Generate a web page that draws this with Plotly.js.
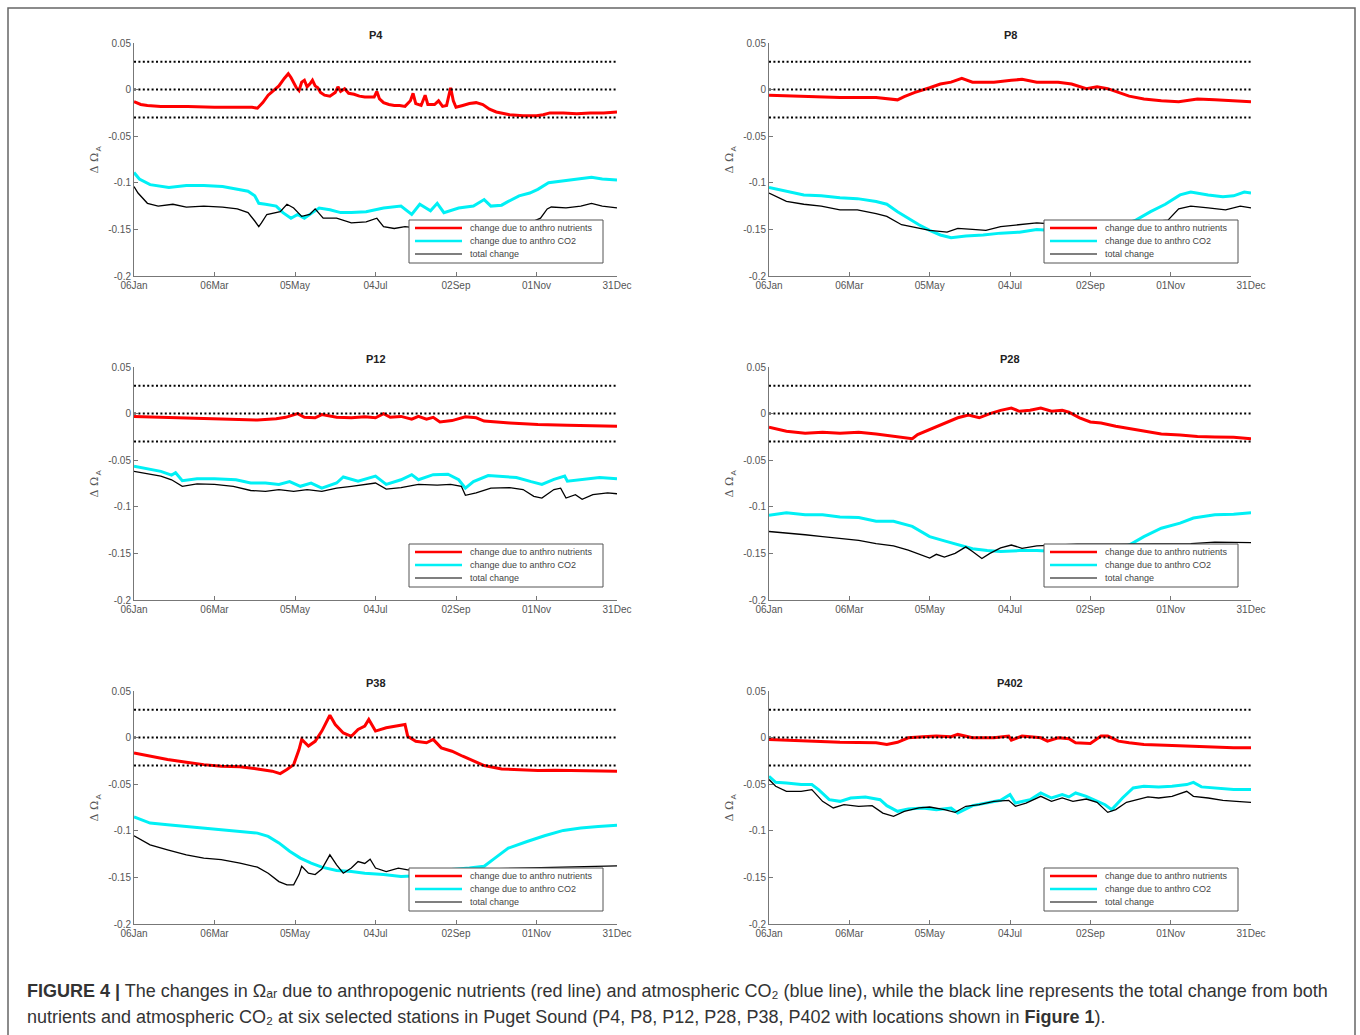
<!DOCTYPE html>
<html>
<head>
<meta charset="utf-8">
<script src="https://cdn.plot.ly/plotly-3.0.1.min.js"></script>
<style>
  html, body { margin: 0; padding: 0; background: #fff; }
  #chart { width: 1360px; height: 1035px; }
</style>
</head>
<body>
<div id="chart"></div>
<script>
// ---------- axis tick data ----------
const tickDays = [0, 60, 120, 180, 240, 300, 360];
const tickLabels = ['06Jan', '06Mar', '05May', '04Jul', '02Sep', '01Nov', '31Dec'];
const yTicks = [0.05, 0, -0.05, -0.1, -0.15, -0.2];
const yTickLabels = ['0.05', '0', '-0.05', '-0.1', '-0.15', '-0.2'];
const thresholdLevels = [0.03, 0, -0.03];
const stationNames = ['P4', 'P8', 'P12', 'P28', 'P38', 'P402'];
const legendLabels = ['change due to anthro nutrients', 'change due to anthro CO2', 'total change'];

// ---------- series: [day since 06Jan, value] ----------
const p4Nutrients = [[0,-0.013],[5,-0.016],[10,-0.017],[20,-0.018],[40,-0.018],[60,-0.019],[80,-0.019],[88,-0.019],[92,-0.02],[96,-0.014],[100,-0.006],[104,-0.001],[108,0.004],[112,0.012],[115,0.017],[117,0.013],[119,0.008],[121,0.002],[123,-0.001],[125,0.008],[127,0.01],[129,0.003],[131,0.006],[133,0.01],[135,0.004],[137,0.002],[139,-0.003],[142,-0.006],[146,-0.007],[150,-0.003],[152,0.003],[154,-0.002],[157,0.001],[160,-0.004],[164,-0.005],[168,-0.007],[172,-0.008],[176,-0.008],[179,-0.008],[181,-0.002],[183,-0.01],[186,-0.014],[190,-0.016],[194,-0.017],[198,-0.017],[202,-0.018],[206,-0.012],[208,-0.004],[210,-0.015],[214,-0.017],[217,-0.006],[219,-0.016],[224,-0.016],[227,-0.012],[230,-0.018],[233,-0.017],[235,-0.005],[236,0.002],[238,-0.012],[240,-0.019],[245,-0.017],[250,-0.015],[255,-0.014],[260,-0.016],[265,-0.021],[270,-0.024],[280,-0.027],[290,-0.028],[300,-0.028],[305,-0.027],[310,-0.025],[320,-0.025],[330,-0.026],[340,-0.025],[350,-0.025],[360,-0.024]];
const p4CO2 = [[0,-0.089],[4,-0.096],[12,-0.102],[26,-0.105],[39,-0.103],[52,-0.103],[66,-0.104],[77,-0.107],[85,-0.109],[90,-0.114],[93,-0.122],[98,-0.123],[106,-0.125],[111,-0.132],[117,-0.138],[122,-0.134],[127,-0.138],[133,-0.132],[138,-0.127],[146,-0.129],[154,-0.132],[162,-0.132],[173,-0.131],[186,-0.127],[199,-0.125],[207,-0.134],[213,-0.123],[221,-0.13],[226,-0.122],[231,-0.132],[242,-0.127],[253,-0.125],[261,-0.118],[266,-0.125],[274,-0.124],[279,-0.12],[287,-0.114],[295,-0.111],[301,-0.107],[309,-0.1],[319,-0.098],[333,-0.096],[341,-0.094],[349,-0.096],[360,-0.097]];
const p4Total = [[0,-0.104],[3,-0.111],[10,-0.122],[18,-0.125],[29,-0.123],[39,-0.126],[52,-0.125],[66,-0.126],[77,-0.128],[85,-0.132],[90,-0.141],[93,-0.147],[95,-0.143],[99,-0.134],[109,-0.131],[114,-0.123],[119,-0.127],[125,-0.136],[131,-0.134],[135,-0.128],[141,-0.138],[151,-0.138],[162,-0.143],[173,-0.142],[181,-0.138],[186,-0.147],[194,-0.149],[202,-0.147],[220,-0.15],[240,-0.148],[260,-0.147],[280,-0.145],[298,-0.141],[303,-0.138],[308,-0.128],[311,-0.126],[322,-0.127],[333,-0.125],[341,-0.122],[349,-0.125],[360,-0.127]];

const p8Nutrients = [[0,-0.006],[26,-0.0075],[53,-0.0085],[80,-0.0085],[96,-0.011],[101,-0.0075],[109,-0.003],[120,0.002],[128,0.006],[136,0.008],[144,0.012],[152,0.008],[168,0.008],[181,0.01],[189,0.011],[200,0.008],[216,0.008],[226,0.006],[237,0.001],[245,0.003],[253,0.001],[261,-0.003],[269,-0.007],[280,-0.01],[293,-0.012],[306,-0.013],[320,-0.01],[333,-0.011],[346,-0.012],[360,-0.013]];
const p8CO2 = [[0,-0.105],[13,-0.109],[26,-0.113],[39,-0.114],[53,-0.116],[66,-0.117],[80,-0.12],[88,-0.123],[96,-0.131],[104,-0.138],[112,-0.145],[120,-0.151],[128,-0.156],[136,-0.159],[147,-0.157],[160,-0.156],[173,-0.154],[187,-0.153],[200,-0.15],[220,-0.152],[240,-0.153],[255,-0.15],[265,-0.145],[274,-0.14],[285,-0.131],[296,-0.123],[307,-0.113],[315,-0.11],[328,-0.113],[339,-0.115],[347,-0.114],[355,-0.11],[360,-0.111]];
const p8Total = [[0,-0.111],[13,-0.12],[26,-0.123],[39,-0.125],[53,-0.129],[66,-0.129],[80,-0.133],[88,-0.136],[99,-0.145],[107,-0.147],[120,-0.151],[133,-0.153],[141,-0.149],[152,-0.15],[162,-0.151],[173,-0.147],[187,-0.145],[200,-0.143],[220,-0.145],[250,-0.145],[275,-0.143],[295,-0.14],[298,-0.14],[306,-0.128],[315,-0.125],[328,-0.127],[341,-0.129],[352,-0.125],[360,-0.127]];

const p12Nutrients = [[0,-0.003],[39,-0.0045],[65,-0.0055],[92,-0.007],[106,-0.0055],[113,-0.004],[122,0],[127,-0.004],[135,-0.0045],[140,-0.001],[151,-0.004],[162,-0.0045],[172,-0.0035],[180,-0.0045],[186,0],[191,-0.004],[199,-0.003],[207,-0.006],[212,-0.003],[218,-0.006],[223,-0.004],[228,-0.009],[237,-0.0075],[247,-0.0035],[255,-0.0045],[261,-0.008],[280,-0.01],[301,-0.0118],[323,-0.0125],[339,-0.013],[360,-0.0135]];
const p12CO2 = [[0,-0.0565],[12,-0.06],[20,-0.062],[28,-0.066],[31,-0.0635],[36,-0.072],[47,-0.07],[60,-0.07],[76,-0.071],[87,-0.0745],[98,-0.0745],[108,-0.076],[116,-0.073],[124,-0.078],[132,-0.0745],[140,-0.08],[151,-0.0745],[156,-0.068],[167,-0.0725],[180,-0.067],[188,-0.076],[199,-0.071],[207,-0.0655],[212,-0.071],[223,-0.0655],[234,-0.065],[242,-0.071],[247,-0.08],[253,-0.073],[264,-0.0665],[275,-0.0675],[285,-0.0685],[296,-0.073],[304,-0.076],[313,-0.0705],[321,-0.067],[323,-0.0725],[334,-0.071],[347,-0.0685],[360,-0.07]];
const p12Total = [[0,-0.062],[12,-0.065],[20,-0.067],[28,-0.071],[36,-0.078],[47,-0.0755],[60,-0.076],[74,-0.078],[87,-0.0825],[98,-0.0835],[108,-0.0815],[119,-0.0835],[129,-0.0815],[140,-0.0835],[151,-0.08],[162,-0.078],[172,-0.076],[180,-0.0745],[188,-0.081],[199,-0.0795],[212,-0.076],[226,-0.0768],[236,-0.076],[244,-0.078],[247,-0.0877],[255,-0.085],[266,-0.08],[280,-0.0795],[290,-0.0815],[298,-0.0888],[304,-0.0906],[313,-0.0815],[318,-0.08],[322,-0.0906],[329,-0.087],[334,-0.092],[342,-0.087],[353,-0.085],[360,-0.086]];

const p28Nutrients = [[0,-0.0145],[13,-0.019],[27,-0.021],[40,-0.02],[53,-0.021],[67,-0.02],[80,-0.022],[93,-0.0245],[107,-0.027],[111,-0.0225],[117,-0.019],[123,-0.015],[131,-0.011],[141,-0.0045],[149,-0.0015],[157,-0.0045],[165,0],[173,0.0035],[181,0.006],[187,0.0025],[195,0.0035],[203,0.006],[211,0.0025],[219,0.0035],[224,0.0015],[232,-0.0045],[240,-0.009],[248,-0.01],[259,-0.0135],[269,-0.016],[280,-0.019],[293,-0.022],[307,-0.023],[320,-0.0245],[333,-0.025],[347,-0.0255],[360,-0.027]];
const p28CO2 = [[0,-0.109],[13,-0.1065],[27,-0.1085],[40,-0.1085],[53,-0.111],[67,-0.1115],[80,-0.1155],[93,-0.1155],[107,-0.121],[115,-0.128],[120,-0.132],[131,-0.1365],[141,-0.1408],[152,-0.145],[163,-0.147],[173,-0.148],[187,-0.147],[200,-0.147],[215,-0.148],[235,-0.148],[250,-0.147],[260,-0.145],[269,-0.141],[280,-0.132],[293,-0.123],[307,-0.1175],[317,-0.112],[333,-0.1085],[347,-0.108],[360,-0.1065]];
const p28Total = [[0,-0.1265],[13,-0.128],[27,-0.13],[40,-0.132],[53,-0.134],[67,-0.136],[80,-0.1395],[93,-0.142],[104,-0.1465],[115,-0.152],[120,-0.155],[125,-0.151],[131,-0.154],[139,-0.15],[147,-0.143],[152,-0.148],[159,-0.1555],[165,-0.15],[173,-0.144],[181,-0.141],[189,-0.1445],[200,-0.142],[230,-0.14],[260,-0.14],[290,-0.14],[315,-0.1395],[333,-0.138],[360,-0.1385]];

const p38Nutrients = [[0,-0.0164],[12,-0.02],[25,-0.0235],[39,-0.0264],[52,-0.029],[65,-0.0307],[79,-0.0314],[92,-0.0336],[103,-0.036],[109,-0.0386],[114,-0.0343],[119,-0.029],[123,-0.0128],[125,-0.002],[130,-0.009],[135,-0.004],[140,0.007],[146,0.024],[150,0.014],[156,0.005],[162,0.0014],[167,0.0087],[172,0.0123],[175,0.0195],[180,0.007],[188,0.0105],[197,0.0123],[202,0.014],[204,0.0015],[210,-0.004],[218,-0.0056],[223,-0.002],[229,-0.011],[237,-0.0146],[245,-0.02],[253,-0.0253],[261,-0.03],[274,-0.0336],[287,-0.0343],[301,-0.0354],[314,-0.035],[333,-0.0354],[346,-0.036],[360,-0.036]];
const p38CO2 = [[0,-0.085],[12,-0.0917],[25,-0.0935],[39,-0.0953],[52,-0.097],[65,-0.0981],[79,-0.1007],[92,-0.1025],[100,-0.106],[108,-0.113],[116,-0.122],[124,-0.1293],[132,-0.1347],[140,-0.139],[151,-0.1426],[162,-0.1437],[172,-0.1455],[186,-0.147],[199,-0.149],[215,-0.148],[232,-0.142],[250,-0.14],[261,-0.138],[269,-0.1293],[279,-0.1186],[293,-0.1115],[306,-0.1053],[320,-0.0996],[333,-0.097],[346,-0.0953],[360,-0.094]];
const p38Total = [[0,-0.1053],[12,-0.115],[25,-0.1204],[39,-0.1258],[52,-0.1293],[65,-0.131],[79,-0.1347],[92,-0.139],[100,-0.1455],[108,-0.1545],[114,-0.158],[119,-0.158],[123,-0.147],[125,-0.138],[130,-0.1455],[135,-0.147],[140,-0.141],[146,-0.1258],[151,-0.1365],[156,-0.1455],[162,-0.14],[167,-0.133],[172,-0.135],[176,-0.1304],[180,-0.14],[188,-0.1437],[197,-0.14],[204,-0.142],[230,-0.142],[260,-0.141],[290,-0.14],[314,-0.139],[333,-0.138],[360,-0.1376]];

const p402Nutrients = [[0,-0.002],[27,-0.0038],[53,-0.005],[80,-0.0056],[88,-0.0074],[96,-0.005],[104,-0.0002],[115,0.0009],[125,0.0016],[136,0.0009],[141,0.0034],[152,-0.0002],[168,-0.0002],[179,0.0016],[181,-0.0027],[189,0.0016],[203,-0.0002],[208,-0.0038],[216,-0.0002],[224,-0.0013],[229,-0.0056],[240,-0.0063],[248,0.0016],[253,0.0016],[261,-0.0038],[269,-0.0056],[280,-0.0074],[296,-0.0081],[312,-0.0092],[333,-0.01],[347,-0.011],[360,-0.011]];
const p402CO2 = [[0,-0.0415],[5,-0.048],[13,-0.0486],[24,-0.0504],[32,-0.0504],[37,-0.0558],[45,-0.0666],[53,-0.0684],[61,-0.0648],[72,-0.0637],[83,-0.0666],[88,-0.073],[96,-0.0791],[104,-0.0766],[115,-0.0755],[125,-0.0773],[136,-0.0755],[141,-0.081],[152,-0.073],[163,-0.0702],[173,-0.0673],[180,-0.0612],[184,-0.0702],[195,-0.0666],[203,-0.0594],[211,-0.0648],[219,-0.0612],[224,-0.0637],[229,-0.0594],[237,-0.063],[245,-0.0684],[251,-0.072],[256,-0.0773],[264,-0.0648],[272,-0.054],[280,-0.0522],[291,-0.0529],[301,-0.0522],[312,-0.0504],[317,-0.048],[323,-0.0529],[333,-0.054],[347,-0.0558],[360,-0.0558]];
const p402Total = [[0,-0.045],[5,-0.0522],[13,-0.0576],[24,-0.0576],[32,-0.0558],[40,-0.0684],[48,-0.0755],[56,-0.072],[67,-0.0737],[77,-0.073],[85,-0.081],[93,-0.0845],[101,-0.0791],[112,-0.0755],[120,-0.0745],[131,-0.0773],[139,-0.0802],[147,-0.0737],[157,-0.072],[168,-0.0684],[179,-0.0673],[184,-0.0737],[192,-0.0702],[203,-0.063],[211,-0.0684],[219,-0.0648],[227,-0.0684],[237,-0.0659],[245,-0.0694],[253,-0.0802],[259,-0.0773],[267,-0.0694],[275,-0.0666],[283,-0.0637],[291,-0.0648],[301,-0.063],[312,-0.0576],[317,-0.063],[328,-0.0648],[339,-0.0673],[349,-0.0684],[360,-0.0694]];

// ---------- assemble ----------
const panelSeries = [
  [p4Nutrients, p4CO2, p4Total],
  [p8Nutrients, p8CO2, p8Total],
  [p12Nutrients, p12CO2, p12Total],
  [p28Nutrients, p28CO2, p28Total],
  [p38Nutrients, p38CO2, p38Total],
  [p402Nutrients, p402CO2, p402Total]
];
const seriesColors = ['#ff0000', '#00f0f5', '#000000'];
const seriesWidths = [3, 3, 1.3];

const W = 1360, H = 1035;
const colBounds = [[134, 617], [769, 1251]];
const rowBounds = [[43, 276], [367, 600], [691, 924]];
const px = v => v / W;
const py = v => 1 - v / H;
const FONT = 'Liberation Sans, Arial, sans-serif';

const traces = [];
const layout = {
  width: W, height: H,
  margin: {l: 0, r: 0, t: 0, b: 0},
  paper_bgcolor: '#ffffff',
  plot_bgcolor: '#ffffff',
  showlegend: false,
  font: {family: FONT, color: '#555', size: 10},
  annotations: [],
  shapes: []
};

stationNames.forEach((name, i) => {
  const col = i % 2, row = Math.floor(i / 2);
  const [x0, x1] = colBounds[col];
  const [y0, y1] = rowBounds[row];
  const suffix = i === 0 ? '' : String(i + 1);
  const xa = 'x' + suffix, ya = 'y' + suffix;

  layout['xaxis' + suffix] = {
    domain: [px(x0), px(x1)],
    anchor: ya,
    range: [tickDays[0], tickDays[tickDays.length - 1]],
    tickmode: 'array', tickvals: tickDays, ticktext: tickLabels,
    ticks: 'inside', ticklen: 4, tickwidth: 1, tickcolor: '#777',
    showline: true, linecolor: '#777', linewidth: 1,
    showgrid: false, zeroline: false, fixedrange: true,
    tickfont: {size: 10, color: '#555', family: FONT}
  };
  layout['yaxis' + suffix] = {
    domain: [py(y1), py(y0)],
    anchor: xa,
    range: [yTicks[yTicks.length - 1], yTicks[0]],
    tickmode: 'array', tickvals: yTicks, ticktext: yTickLabels,
    ticks: 'inside', ticklen: 4, tickwidth: 1, tickcolor: '#777',
    showline: true, linecolor: '#777', linewidth: 1,
    showgrid: false, zeroline: false, fixedrange: true,
    tickfont: {size: 10, color: '#555', family: FONT}
  };

  panelSeries[i].forEach((s, k) => {
    traces.push({
      type: 'scatter', mode: 'lines',
      x: s.map(p => p[0]), y: s.map(p => p[1]),
      xaxis: xa, yaxis: ya,
      line: {color: seriesColors[k], width: seriesWidths[k]},
      hoverinfo: 'skip', showlegend: false
    });
  });
  thresholdLevels.forEach(lv => {
    traces.push({
      type: 'scatter', mode: 'lines',
      x: [tickDays[0], tickDays[tickDays.length - 1]], y: [lv, lv],
      xaxis: xa, yaxis: ya,
      line: {color: '#000', width: 2, dash: '2px,2.4px'},
      hoverinfo: 'skip', showlegend: false
    });
  });

  // panel title
  layout.annotations.push({
    text: name, xref: 'paper', yref: 'paper',
    x: px((x0 + x1) / 2), y: py(y0 - 8), xanchor: 'center', yanchor: 'middle',
    showarrow: false, font: {size: 11, color: '#222', family: FONT, weight: 'bold'}
  });
  // y axis label: "Δ Ω" with subscript "A" (rotated)
  const yc = (y0 + y1) / 2;
  layout.annotations.push({
    text: 'Δ Ω', xref: 'paper', yref: 'paper',
    x: px(x0 - 40), y: py(yc + 4), xanchor: 'center', yanchor: 'middle',
    textangle: -90, showarrow: false,
    font: {size: 11, color: '#555', family: 'DejaVu Serif, serif'}
  });
  layout.annotations.push({
    text: 'A', xref: 'paper', yref: 'paper',
    x: px(x0 - 36), y: py(yc - 11), xanchor: 'center', yanchor: 'middle',
    textangle: -90, showarrow: false,
    font: {size: 8, color: '#555', family: FONT}
  });

  // legend box (MATLAB-style, opaque)
  const lx = x0 + 275, ly = y0 + 177, lw = 194, lh = 43;
  layout.shapes.push({
    type: 'rect', xref: 'paper', yref: 'paper', layer: 'above',
    x0: px(lx), x1: px(lx + lw), y0: py(ly + lh), y1: py(ly),
    fillcolor: '#ffffff', line: {color: '#555', width: 1}
  });
  legendLabels.forEach((lab, k) => {
    const ry = ly + 8 + k * 13;
    layout.shapes.push({
      type: 'line', xref: 'paper', yref: 'paper', layer: 'above',
      x0: px(lx + 6), x1: px(lx + 53), y0: py(ry), y1: py(ry),
      line: {color: seriesColors[k], width: k < 2 ? 2.6 : 1.2}
    });
    layout.annotations.push({
      text: lab, xref: 'paper', yref: 'paper',
      x: px(lx + 59), y: py(ry), xanchor: 'left', yanchor: 'middle',
      showarrow: false, font: {size: 9, color: '#444', family: FONT}
    });
  });
});

// outer frame
layout.shapes.push({
  type: 'rect', xref: 'paper', yref: 'paper', layer: 'above',
  x0: px(8), x1: px(1355), y0: py(1045), y1: py(8),
  fillcolor: 'rgba(0,0,0,0)', line: {color: '#666', width: 1.5}
});

// caption (unicode subscripts)
const captionLines = [
  '<b>FIGURE 4 |</b> The changes in Ωₐᵣ due to anthropogenic nutrients (red line) and atmospheric CO₂ (blue line), while the black line represents the total change from both',
  'nutrients and atmospheric CO₂ at six selected stations in Puget Sound (P4, P8, P12, P28, P38, P402 with locations shown in <b>Figure 1</b>).'
];
const captionY = [991, 1017];
captionLines.forEach((t, k) => {
  layout.annotations.push({
    text: t, xref: 'paper', yref: 'paper',
    x: px(25), y: py(captionY[k]), xanchor: 'left', yanchor: 'middle',
    showarrow: false, align: 'left',
    font: {size: 18, color: '#333', family: FONT}
  });
});

Plotly.newPlot('chart', traces, layout, {displayModeBar: false, staticPlot: true});
</script>
</body>
</html>
